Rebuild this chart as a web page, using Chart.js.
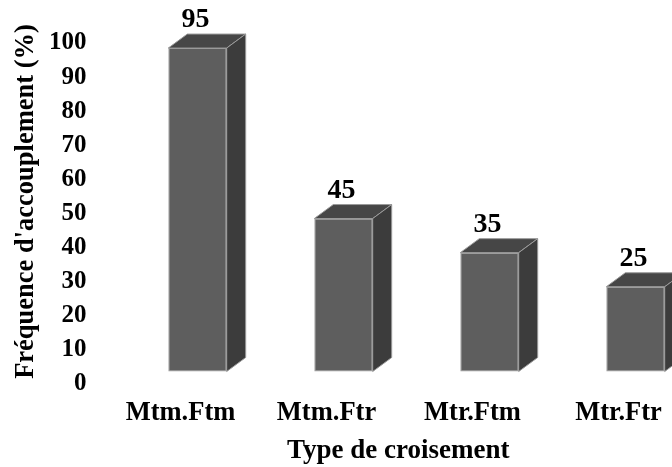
<!DOCTYPE html>
<html>
<head>
<meta charset="utf-8">
<script src="https://cdn.jsdelivr.net/npm/chart.js@4/dist/chart.umd.min.js"></script>
<style>
  html, body { margin: 0; padding: 0; background: #fff; overflow: hidden; }
  #wrap { width: 672px; height: 467px; }
</style>
</head>
<body>
<div id="wrap"><canvas id="chart" width="672" height="467"></canvas></div>
<script>
        // data
        const categories = ['Mtm.Ftm', 'Mtm.Ftr', 'Mtr.Ftm', 'Mtr.Ftr'];
        const frequencies = [95, 45, 35, 25];
        const yTicks = [0, 10, 20, 30, 40, 50, 60, 70, 80, 90, 100];
        const xTitle = 'Type de croisement';
        const yTitle = "Fréquence d'accouplement (%)";

        const serif = "'Liberation Serif', 'Times New Roman', serif";
        const depthX = 19;
        const depthY = 14;

        // top and side faces of the 3d boxes, built on the bars chart.js placed
        const box3d = {
            id: 'box3d',
            afterDatasetsDraw(chart) {
                const ctx = chart.ctx;
                chart.getDatasetMeta(0).data.forEach(bar => {
                    const { x, y, base, width } = bar.getProps(['x', 'y', 'base', 'width'], true);
                    const left = x - width / 2;
                    const right = x + width / 2;
                    ctx.save();
                    ctx.lineWidth = 1;
                    ctx.strokeStyle = '#9a9a9a';

                    ctx.beginPath();
                    ctx.moveTo(left, y);
                    ctx.lineTo(left + depthX, y - depthY);
                    ctx.lineTo(right + depthX, y - depthY);
                    ctx.lineTo(right, y);
                    ctx.closePath();
                    ctx.fillStyle = '#464646';
                    ctx.fill();
                    ctx.stroke();

                    ctx.beginPath();
                    ctx.moveTo(right, y);
                    ctx.lineTo(right + depthX, y - depthY);
                    ctx.lineTo(right + depthX, base - depthY);
                    ctx.lineTo(right, base);
                    ctx.closePath();
                    ctx.fillStyle = '#3c3c3c';
                    ctx.fill();
                    ctx.stroke();
                    ctx.restore();
                });
            }
        };

        const valueLabels = {
            id: 'valueLabels',
            afterDatasetsDraw(chart) {
                const ctx = chart.ctx;
                const ds = chart.data.datasets[0];
                chart.getDatasetMeta(0).data.forEach((bar, i) => {
                    ctx.save();
                    ctx.font = 'bold 28px ' + serif;
                    ctx.fillStyle = '#000';
                    ctx.textAlign = 'center';
                    ctx.textBaseline = 'middle';
                    ctx.fillText(String(ds.data[i].y), bar.x - 2, bar.y - 28);
                    ctx.restore();
                });
            }
        };

        const hiddenGrid = {
            display: true,
            color: 'rgba(0,0,0,0)',
            drawOnChartArea: false,
            drawTicks: true
        };

        const ctx = document.getElementById('chart').getContext('2d');
        const myChart = new Chart(ctx, {
            type: 'bar',
            data: {
                datasets: [{
                    data: categories.map((c, i) => ({ x: i, y: frequencies[i] })),
                    backgroundColor: '#5e5e5e',
                    borderColor: '#9a9a9a',
                    borderWidth: 1,
                    borderSkipped: false,
                    categoryPercentage: 1,
                    barPercentage: 0.4,
                    clip: false
                }]
            },
            options: {
                responsive: false,
                animation: false,
                layout: { padding: { top: 31, left: 0, right: 0, bottom: 0 } },
                plugins: {
                    legend: { display: false },
                    tooltip: { enabled: false }
                },
                scales: {
                    x: {
                        type: 'linear',
                        offset: false,
                        min: -0.5,
                        max: 3.25,
                        grid: { ...hiddenGrid, tickLength: 25 },
                        border: { display: false },
                        afterBuildTicks: scale => {
                            scale.ticks = categories.map((c, i) => ({ value: i }));
                        },
                        afterFit: scale => {
                            scale.paddingLeft = 0;
                            scale.paddingRight = 0;
                        },
                        ticks: {
                            callback: v => categories[v],
                            labelOffset: -17,
                            padding: 0,
                            maxRotation: 0,
                            minRotation: 0,
                            autoSkip: false,
                            color: '#000',
                            font: { family: serif, size: 26.5, weight: 'bold' }
                        },
                        title: {
                            display: true,
                            text: xTitle,
                            color: '#000',
                            padding: { top: 5.8, bottom: 0 },
                            font: { family: serif, size: 27, weight: 'bold' }
                        }
                    },
                    y: {
                        min: 0,
                        max: 100,
                        grid: { ...hiddenGrid, tickLength: 38 },
                        border: { display: false },
                        afterBuildTicks: scale => {
                            scale.ticks = yTicks.map(v => ({ value: v }));
                        },
                        ticks: {
                            padding: 0,
                            labelOffset: 12,
                            color: '#000',
                            font: { family: serif, size: 25, weight: 'bold' }
                        },
                        title: {
                            display: true,
                            text: yTitle,
                            color: '#000',
                            padding: { top: 10.4, bottom: 6.8 },
                            font: { family: serif, size: 26.5, weight: 'bold' }
                        }
                    }
                }
            },
            plugins: [box3d, valueLabels]
        });
</script>
</body>
</html>
